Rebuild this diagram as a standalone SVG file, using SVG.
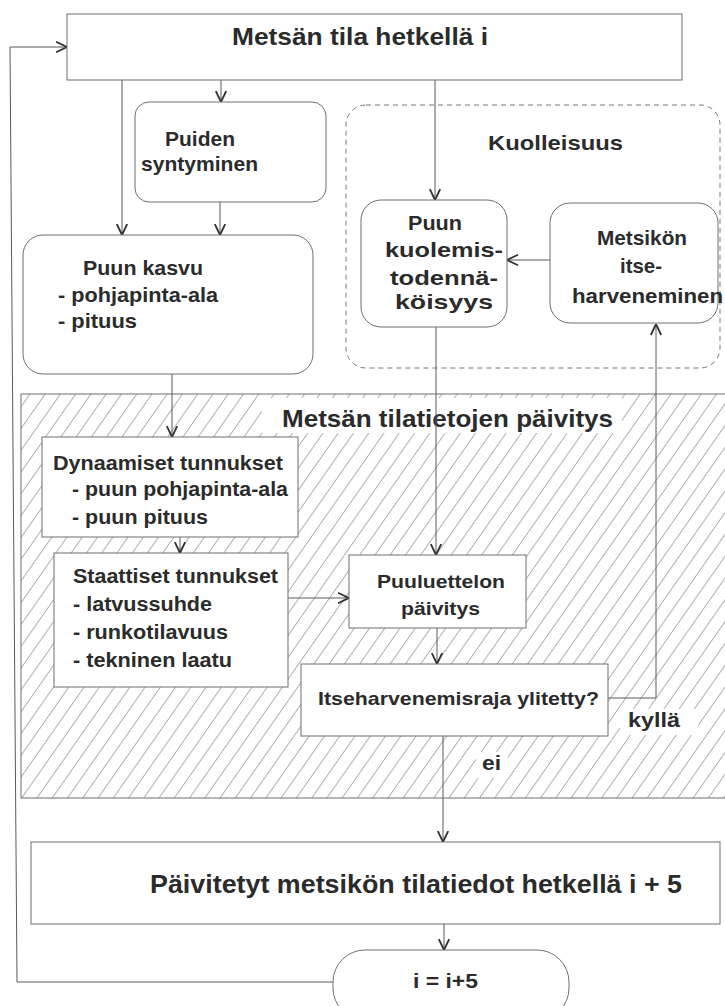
<svg xmlns="http://www.w3.org/2000/svg" width="725" height="1006" viewBox="0 0 725 1006">
<defs>
<style>
.t{font-family:"Liberation Sans",Arial,Helvetica,sans-serif;font-weight:bold;fill:#2b2b2b}
.box{fill:#fff;stroke:#6e6e6e;stroke-width:1}
.ln{fill:none;stroke:#5a5a5a;stroke-width:1}
.dash{fill:none;stroke:#777;stroke-width:1;stroke-dasharray:5 4}
</style>
<pattern id="hatch" patternUnits="userSpaceOnUse" width="12.5" height="40" patternTransform="rotate(35)">
<line x1="0" y1="0" x2="0" y2="40" stroke="#4a4a4a" stroke-width="0.9"/>
</pattern>
<marker id="arr" viewBox="0 0 12 12" refX="11.5" refY="6" markerWidth="12" markerHeight="12" markerUnits="userSpaceOnUse" orient="auto">
<path d="M0.5,0.8 L11.5,6 L0.5,11.2" fill="none" stroke="#333" stroke-width="1.8" stroke-linejoin="miter"/>
</marker>
</defs>
<rect width="725" height="1006" fill="#fff"/>

<g id="region-update">
<rect x="21" y="394" width="710" height="404" fill="url(#hatch)" stroke="#6e6e6e" stroke-width="1"/>
<rect x="262" y="398" width="360" height="35" fill="#fff"/>
<rect x="620" y="709" width="78" height="26" fill="#fff"/>
<rect x="476" y="752" width="32" height="26" fill="#fff"/>
<text class="t" x="282" y="427" font-size="24" textLength="331" lengthAdjust="spacingAndGlyphs">Metsän tilatietojen päivitys</text>
</g>

<g id="region-kuolleisuus">
<rect x="346" y="105" width="374" height="263" rx="20" class="dash"/>
<text class="t" x="488" y="150" font-size="21" textLength="135" lengthAdjust="spacingAndGlyphs">Kuolleisuus</text>
</g>

<g id="connectors">
<line class="ln" x1="122" y1="80" x2="122" y2="235" marker-end="url(#arr)"/>
<line class="ln" x1="221" y1="80" x2="221" y2="102" marker-end="url(#arr)"/>
<line class="ln" x1="435" y1="80" x2="435" y2="200" marker-end="url(#arr)"/>
<line class="ln" x1="220" y1="202" x2="220" y2="235" marker-end="url(#arr)"/>
<line class="ln" x1="550" y1="260" x2="507" y2="260" marker-end="url(#arr)"/>
<line class="ln" x1="172" y1="374" x2="172" y2="437" marker-end="url(#arr)"/>
<line class="ln" x1="436" y1="327" x2="436" y2="555" marker-end="url(#arr)"/>
<line class="ln" x1="180" y1="537" x2="180" y2="553" marker-end="url(#arr)"/>
<line class="ln" x1="288" y1="598" x2="349" y2="598" marker-end="url(#arr)"/>
<line class="ln" x1="437" y1="628" x2="437" y2="664" marker-end="url(#arr)"/>
<polyline class="ln" points="608,698 656,698 656,324" marker-end="url(#arr)"/>
<line class="ln" x1="443" y1="736" x2="443" y2="842" marker-end="url(#arr)"/>
<line class="ln" x1="444" y1="924" x2="444" y2="950" marker-end="url(#arr)"/>
<polyline class="ln" points="333,982 17,982 10,47 67,47" marker-end="url(#arr)"/>
</g>

<g id="node-metsan-tila">
<rect class="box" x="67" y="14" width="615" height="66"/>
<text class="t" x="232" y="45" font-size="24" textLength="256" lengthAdjust="spacingAndGlyphs">Metsän tila hetkellä i</text>
</g>

<g id="node-puiden-syntyminen">
<rect class="box" x="135" y="102" width="191" height="100" rx="14"/>
<text class="t" x="165" y="146" font-size="21" textLength="70" lengthAdjust="spacingAndGlyphs">Puiden</text>
<text class="t" x="141" y="171" font-size="21" textLength="117" lengthAdjust="spacingAndGlyphs">syntyminen</text>
</g>

<g id="node-puun-kasvu">
<rect class="box" x="23" y="235" width="290" height="139" rx="20"/>
<text class="t" x="83" y="275" font-size="21" textLength="120" lengthAdjust="spacingAndGlyphs">Puun kasvu</text>
<text class="t" x="58" y="302" font-size="21" textLength="160" lengthAdjust="spacingAndGlyphs">- pohjapinta-ala</text>
<text class="t" x="58" y="328" font-size="21" textLength="79" lengthAdjust="spacingAndGlyphs">- pituus</text>
</g>

<g id="node-puun-kuolemis">
<rect class="box" x="361" y="200" width="146" height="127" rx="20"/>
<text class="t" x="408" y="230" font-size="21" textLength="54" lengthAdjust="spacingAndGlyphs">Puun</text>
<text class="t" x="385" y="257" font-size="21" textLength="118" lengthAdjust="spacingAndGlyphs">kuolemis-</text>
<text class="t" x="390" y="285" font-size="21" textLength="108" lengthAdjust="spacingAndGlyphs">todennä-</text>
<text class="t" x="395" y="309" font-size="21" textLength="98" lengthAdjust="spacingAndGlyphs">köisyys</text>
</g>

<g id="node-metsikon">
<rect class="box" x="550" y="203" width="168" height="120" rx="20"/>
<text class="t" x="597" y="245" font-size="21" textLength="90" lengthAdjust="spacingAndGlyphs">Metsikön</text>
<text class="t" x="620" y="273" font-size="21" textLength="42" lengthAdjust="spacingAndGlyphs">itse-</text>
<text class="t" x="572" y="303" font-size="21" textLength="151" lengthAdjust="spacingAndGlyphs">harveneminen</text>
</g>

<g id="node-dynaamiset">
<rect class="box" x="42" y="437" width="256" height="100"/>
<text class="t" x="53" y="470" font-size="20" textLength="230" lengthAdjust="spacingAndGlyphs">Dynaamiset tunnukset</text>
<text class="t" x="72" y="496" font-size="20" textLength="216" lengthAdjust="spacingAndGlyphs">- puun pohjapinta-ala</text>
<text class="t" x="72" y="524" font-size="20" textLength="136" lengthAdjust="spacingAndGlyphs">- puun pituus</text>
</g>

<g id="node-staattiset">
<rect class="box" x="54" y="553" width="234" height="134"/>
<text class="t" x="73" y="583" font-size="20" textLength="205" lengthAdjust="spacingAndGlyphs">Staattiset tunnukset</text>
<text class="t" x="73" y="611" font-size="20" textLength="139" lengthAdjust="spacingAndGlyphs">- latvussuhde</text>
<text class="t" x="73" y="639" font-size="20" textLength="155" lengthAdjust="spacingAndGlyphs">- runkotilavuus</text>
<text class="t" x="73" y="667" font-size="20" textLength="159" lengthAdjust="spacingAndGlyphs">- tekninen laatu</text>
</g>

<g id="node-puuluettelon">
<rect class="box" x="349" y="555" width="177" height="73"/>
<text class="t" x="377" y="588" font-size="19" textLength="128" lengthAdjust="spacingAndGlyphs">Puuluettelon</text>
<text class="t" x="401" y="615" font-size="19" textLength="79" lengthAdjust="spacingAndGlyphs">päivitys</text>
</g>

<g id="node-itseharvenemisraja">
<rect class="box" x="301" y="664" width="307" height="72"/>
<text class="t" x="318" y="705" font-size="19" textLength="281" lengthAdjust="spacingAndGlyphs">Itseharvenemisraja ylitetty?</text>
</g>

<g id="labels">
<text class="t" x="628" y="727" font-size="20" textLength="52" lengthAdjust="spacingAndGlyphs">kyllä</text>
<text class="t" x="482" y="770" font-size="20" textLength="19" lengthAdjust="spacingAndGlyphs">ei</text>
</g>

<g id="node-paivitetyt">
<rect class="box" x="31" y="842" width="689" height="82"/>
<text class="t" x="150" y="893" font-size="25" textLength="532" lengthAdjust="spacingAndGlyphs">Päivitetyt metsikön tilatiedot hetkellä i + 5</text>
</g>

<g id="node-i-plus-5">
<rect class="box" x="333" y="950" width="236" height="70" rx="32"/>
<text class="t" x="413" y="988" font-size="20" textLength="65" lengthAdjust="spacingAndGlyphs">i = i+5</text>
</g>
</svg>
